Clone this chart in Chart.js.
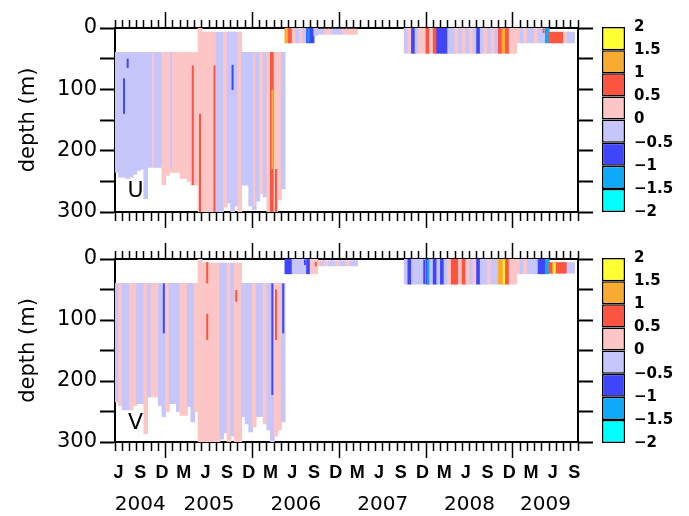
<!DOCTYPE html>
<html><head><meta charset="utf-8">
<script src="https://cdn.jsdelivr.net/npm/chart.js@4/dist/chart.umd.min.js"></script>
<style>
html,body{margin:0;padding:0;background:#fff;}
#wrap{position:relative;width:689px;height:516px;overflow:hidden;background:#fff;}
canvas{position:absolute;}
</style></head><body>
<div id="wrap">
<canvas id="cU" width="600" height="232" style="left:0;top:0;width:600px;height:232px"></canvas>
<canvas id="cV" width="600" height="286" style="left:0;top:230px;width:600px;height:286px"></canvas>
<canvas id="kU" width="109" height="240" style="left:580px;top:0;width:109px;height:240px"></canvas>
<canvas id="kV" width="109" height="286" style="left:580px;top:230px;width:109px;height:286px"></canvas>
</div>
<script>
// ---------- axis categories ----------
// time is counted in months from 1 Jun 2004; data are in half-month bins
const monthTicks = [];              // month starts Jun 2004 .. Oct 2009
for (let m = 0; m <= 64; m++) monthTicks.push(m);
const yearStarts = [7, 19, 31, 43, 55];            // 1 Jan 2005..2009
const yearCenters = [3.5, 13, 25, 37, 49, 59.5];
const yearLabels = ['2004', '2005', '2006', '2007', '2008', '2009'];
const monthLetters = ['J', 'S', 'D', 'M'];
const depthTicks = [0, 50, 100, 150, 200, 250, 300];
const binTime = [];
for (let i = 0; i < 128; i++) binTime.push(i * 0.5 + 0.25);

// ---------- colour scale ----------
const levels = [-2, -1.5, -1, -0.5, 0, 0.5, 1, 1.5, 2];
const palette = ['#00ffff', '#0faaf7', '#3f46fa', '#c6c6fb', '#fdc6c6', '#fb5440', '#f9aa30', '#ffff33'];

// ---------- U component (depth top / bottom in m, value in m/s) ----------
const N = null;
const uTop = [
 40,40,40,40,40,40,40,40,40,40, 40,40,40,40,40,40,40,40,40,40, 40,40,40,0,7,7,7,7,7,7,
 7,7,7,7,7,40,40,40,40,40, 40,40,40,40,40,40,40,0,0,0, 0,0,0,0,0,0,2,2,2,2,
 2,2,2,2,2,2,2,N,N,N, N,N,N,N,N,N,N,N,N,N, 0,0,0,0,0,0,0,0,0,0,
 0,0,0,0,0,0,0,0,0,0, 0,0,0,0,0,0,0,0,0,0, 0,0,0,0,0,0,0,0,0,0,
 7,7,7,7,7,7,7,N];
const uBot = [
 235,243,243,245,243,238,232,230,278,227, 227,227,227,255,240,235,235,235,245,245, 250,256,256,300,300,300,300,300,300,300,
 292,285,300,290,300,256,256,290,296,282, 270,275,300,300,300,280,262,24,24,24, 24,24,24,24,24,12,10,10,10,10,
 10,10,10,10,10,10,10,N,N,N, N,N,N,N,N,N,N,N,N,N, 41,41,41,41,41,41,41,41,41,41,
 41,41,41,41,41,41,41,41,41,41, 41,41,41,41,41,41,41,41,41,41, 41,24,24,24,24,24,24,24,24,24,
 24,24,24,24,24,24,24,N];
const uVal = [
 -0.25,-0.25,-0.25,-0.25,-0.25,-0.25,-0.25,-0.25,-0.25,-0.25, -0.25,-0.25,-0.25,0.25,0.25,0.25,0.25,0.25,0.25,0.25,
 0.25,0.25,0.25,0.25,0.25,0.25,0.25,0.25,-0.25,-0.25, 0.25,-0.25,-0.25,-0.25,0.25,-0.25,-0.25,-0.25,-0.25,-0.25,
 0.25,-0.25,0.25,0.75,0.25,0.25,-0.25,1.25,0.75,0.25, -0.25,0.25,-0.25,-0.75,-0.75,-0.25,-0.25,-0.25,0.25,0.25,
 -0.25,-0.25,-0.25,0.25,0.25,0.25,0.25,N,N,N, N,N,N,N,N,N,N,N,N,N,
 -0.25,0.25,-0.75,-0.25,0.25,0.25,0.75,0.25,0.75,-0.75, -0.75,-0.75,-0.25,-0.25,0.25,-0.25,0.25,-0.25,0.25,-0.25,
 -0.75,-0.25,0.25,-0.25,0.25,-0.25,0.75,1.25,0.75,0.25, 0.25,0.25,-0.25,0.25,-0.25,-0.25,0.25,-0.25,-0.25,-1.25,
 0.75,0.75,0.75,0.75,0.25,-0.25,-0.25,N];
// narrow streaks inside the columns: bin, top, bottom, value
const uStreakBin = [2, 3, 10, 15, 21, 23, 27, 32, 38, 43, 44, 53, 118];
const uStreakTop = [82, 50, 40, 40, 61, 140, 61, 60, 40, 100, 230, 0, 0];
const uStreakBot = [140, 65, 227, 230, 256, 300, 300, 101, 290, 230, 300, 24, 8];
const uStreakVal = [-0.75, -0.75, 0.25, -0.25, 0.75, 0.75, 0.75, -0.75, 0.25, 1.25, 0.75, -1.25, 0.75];

// ---------- V component ----------
const vTop = [
 40,40,40,40,40,40,40,40,40,40, 40,40,40,40,40,40,40,40,40,40, 40,40,40,0,7,7,7,7,7,7,
 7,7,7,7,7,40,40,40,40,40, 40,40,40,40,40,40,40,0,0,0, 0,0,0,0,0,0,3,3,3,3,
 3,3,3,3,3,3,3,N,N,N, N,N,N,N,N,N,N,N,N,N, 0,0,0,0,0,0,0,0,0,0,
 0,0,0,0,0,0,0,0,0,0, 0,0,0,0,0,0,0,0,0,0, 0,0,0,0,0,0,0,0,0,0,
 6,6,6,6,6,6,6,N];
const vBot = [
 234,240,247,247,247,240,237,237,286,226, 226,226,240,258,250,237,237,250,256,256, 242,267,250,300,300,300,300,300,300,295,
 285,300,290,300,300,258,270,283,275,258, 258,270,280,300,290,280,267,24,24,24, 24,24,24,24,24,24,11,11,11,11,
 11,11,11,11,11,11,11,N,N,N, N,N,N,N,N,N,N,N,N,N, 41,41,41,41,41,41,41,41,41,41,
 41,41,41,41,41,41,41,41,41,41, 41,41,41,41,41,41,41,41,41,41, 41,24,24,24,24,24,24,24,24,24,
 23,23,23,23,23,23,23,N];
const vVal = [
 -0.25,0.25,-0.25,-0.25,0.25,0.25,-0.25,-0.25,0.25,-0.25, 0.25,0.25,-0.25,-0.25,0.25,-0.25,-0.25,-0.25,0.25,0.25,
 -0.25,-0.25,0.25,0.25,0.25,0.25,0.25,0.25,0.25,-0.25, -0.25,0.25,-0.25,0.25,0.25,-0.25,-0.25,-0.25,0.25,-0.25,
 -0.25,0.25,-0.25,-0.25,0.25,0.25,-0.25,-0.75,-0.75,-0.25, -0.25,-0.25,-0.25,-0.75,0.25,0.25,0.25,-0.25,0.25,-0.25,
 -0.25,0.25,-0.25,-0.25,0.25,-0.25,-0.25,N,N,N, N,N,N,N,N,N,N,N,N,N,
 -0.25,-0.75,-0.25,-0.25,-0.25,-0.25,-0.75,-0.25,-0.75,-0.25, -0.75,-0.25,0.25,0.75,0.75,0.25,0.75,0.25,-0.25,0.25,
 -0.75,-0.25,-0.25,0.25,-0.25,-0.25,1.25,1.25,0.75,0.25, 0.25,0.25,-0.25,0.25,-0.25,-0.25,-0.25,-0.75,-0.75,-1.25,
 0.75,1.25,0.75,0.75,0.75,-0.25,-0.25,N];
const vStreakBin = [13, 25, 25, 33, 43, 44, 46, 52, 55, 85, 86, 107, 121];
const vStreakTop = [40, 5, 90, 51, 40, 50, 40, 0, 5, 0, 0, 0, 6];
const vStreakBot = [122, 40, 133, 70, 223, 133, 122, 10, 12, 41, 41, 41, 23];
const vStreakVal = [-0.75, 0.75, 0.75, 0.75, -0.75, 0.75, -0.75, -0.75, 0.75, -0.75, -1.25, 1.75, 1.75];

// ---------- helpers ----------
function colorOf(v) {
  for (let k = 0; k < 8; k++) if (v >= levels[k] && v < levels[k + 1]) return palette[k];
  return v < 0 ? palette[0] : palette[7];
}
const isYear = v => yearStarts.indexOf(v) >= 0;
const BLACK = '#000';
const FONT = '"DejaVu Sans", sans-serif';

const letterPlugin = {
  id: 'letter',
  afterDatasetsDraw(chart, args, opts) {
    const {ctx, scales: {x, y}} = chart;
    ctx.save();
    ctx.font = '22px ' + FONT;
    ctx.fillStyle = BLACK;
    ctx.textAlign = 'center';
    ctx.textBaseline = 'middle';
    ctx.fillText(opts.text, x.getPixelForValue(opts.t), y.getPixelForValue(opts.d));
    ctx.restore();
  }
};

function panel(id, top, bot, val, sBin, sTop, sBot, sVal, letter, cfg) {
  const base = [], baseV = [];
  for (let i = 0; i < binTime.length; i++) {
    if (top[i] === null) continue;
    base.push({x: binTime[i], y: [top[i], bot[i]]});
    baseV.push(val[i]);
  }
  const streak = sBin.map((b, i) => ({x: binTime[b], y: [sTop[i], sBot[i]]}));
  const scales = {
    x: {
      type: 'linear', position: 'bottom', min: 0, max: 64, offset: false,
      afterBuildTicks: s => { s.ticks = monthTicks.map(v => ({value: v})); },
      afterFit: s => { s.height = cfg.monthH; },
      grid: {drawOnChartArea: false, drawTicks: true, tickLength: 16, tickWidth: 1.5, tickColor: BLACK, offset: false,
             tickBorderDash: c => (c.tick && isYear(c.tick.value)) ? [] : [8, 100]},
      border: {display: true, color: BLACK, width: 2},
      ticks: {autoSkip: false, maxRotation: 0, minRotation: 0, padding: 4, labelOffset: 3.6, color: BLACK,
              font: {family: '"Liberation Sans Narrow", "Liberation Sans", sans-serif', size: 18, weight: 'bold'},
              callback: v => (cfg.labels && v % 3 === 0 && v < 64) ? monthLetters[(v / 3) % 4] : ''}
    },
    xT: {
      type: 'linear', position: 'top', min: 0, max: 64, offset: false,
      afterBuildTicks: s => { s.ticks = monthTicks.map(v => ({value: v})); },
      afterFit: s => { s.height = cfg.topH; },
      grid: {drawOnChartArea: false, drawTicks: true, tickLength: 16, tickWidth: 1.5, tickColor: BLACK, offset: false,
             tickBorderDash: c => (c.tick && isYear(c.tick.value)) ? [] : [0, 8, 8, 100]},
      border: {display: true, color: BLACK, width: 2},
      ticks: {autoSkip: false, maxRotation: 0, callback: () => ''}
    },
    y: {
      type: 'linear', position: 'left', reverse: true, min: 0, max: 300, offset: false,
      afterBuildTicks: s => { s.ticks = depthTicks.map(v => ({value: v})); },
      afterFit: s => { s.width = 115; },
      title: {display: true, text: 'depth (m)', color: BLACK, font: {family: FONT, size: 21}, padding: {top: 16, bottom: 0}},
      grid: {drawOnChartArea: false, drawTicks: true, tickLength: 15, tickWidth: 2, tickColor: BLACK},
      border: {display: true, color: BLACK, width: 2},
      ticks: {color: BLACK, padding: 3, font: {family: FONT, size: 21}, callback: v => v % 100 === 0 ? String(v) : ''}
    },
    yR: {
      type: 'linear', position: 'right', reverse: true, min: 0, max: 300, offset: false,
      afterBuildTicks: s => { s.ticks = depthTicks.map(v => ({value: v})); },
      afterFit: s => { s.width = 22; },
      grid: {drawOnChartArea: false, drawTicks: true, tickLength: 15, tickWidth: 2, tickColor: BLACK},
      border: {display: true, color: BLACK, width: 2},
      ticks: {callback: () => ''}
    }
  };
  if (cfg.labels) {
    scales.xY = {
      type: 'linear', position: 'bottom', min: 0, max: 64, offset: false,
      afterBuildTicks: s => { s.ticks = yearCenters.map(v => ({value: v})); },
      afterFit: s => { s.height = cfg.yearH; },
      grid: {display: false, drawTicks: false},
      border: {display: false},
      ticks: {autoSkip: false, maxRotation: 0, padding: 11, color: BLACK, font: {family: FONT, size: 20},
              callback: (v, i) => yearLabels[i]}
    };
  }
  return new Chart(document.getElementById(id), {
    type: 'bar',
    data: {
      datasets: [
        {label: 'base', order: 2, data: base, backgroundColor: c => colorOf(baseV[c.dataIndex]), borderWidth: 0,
         grouped: false, barPercentage: 1, categoryPercentage: 1, inflateAmount: 0.5, xAxisID: 'x', yAxisID: 'y'},
        {label: 'streak', order: 1, data: streak, backgroundColor: c => colorOf(sVal[c.dataIndex]), borderWidth: 0,
         grouped: false, barPercentage: 0.55, categoryPercentage: 1, inflateAmount: 0, xAxisID: 'x', yAxisID: 'y'}
      ]
    },
    options: {
      responsive: false, animation: false, events: [],
      layout: {padding: 0},
      plugins: {legend: {display: false}, tooltip: {enabled: false}, letter: {text: letter, t: 2.85, d: cfg.letterD}},
      scales
    },
    plugins: [letterPlugin]
  });
}

function colorbar(id, areaTop, areaBottom, H) {
  return new Chart(document.getElementById(id), {
    type: 'bar',
    data: {
      labels: ['k'],
      datasets: palette.map((c, k) => ({
        data: [[levels[k], levels[k + 1]]], backgroundColor: c, borderColor: BLACK, borderWidth: 1.5,
        borderSkipped: false, grouped: false, barPercentage: 1, categoryPercentage: 1, inflateAmount: 0
      }))
    },
    options: {
      responsive: false, animation: false, events: [],
      layout: {padding: {top: areaTop, bottom: H - areaBottom, left: 22, right: 0}},
      plugins: {legend: {display: false}, tooltip: {enabled: false}},
      scales: {
        x: {display: false},
        y: {
          position: 'right', min: -2, max: 2,
          afterBuildTicks: s => { s.ticks = levels.map(v => ({value: v})); },
          afterFit: s => { s.width = 64; },
          grid: {display: false, drawTicks: false},
          border: {display: false},
          ticks: {padding: 9, color: BLACK, font: {family: FONT, size: 15, weight: 'bold'},
                  callback: v => (v < 0 ? '\u2212' : '') + String(Math.abs(v))}
        }
      }
    }
  });
}

panel('cU', uTop, uBot, uVal, uStreakBin, uStreakTop, uStreakBot, uStreakVal, 'U',
      {labels: false, topH: 28, monthH: 20, letterD: 266});
panel('cV', vTop, vBot, vVal, vStreakBin, vStreakTop, vStreakBot, vStreakVal, 'V',
      {labels: true, topH: 29, monthH: 40, yearH: 34, letterD: 270});
colorbar('kU', 27, 212, 240);
colorbar('kV', 28, 213, 286);
</script>
</body></html>
